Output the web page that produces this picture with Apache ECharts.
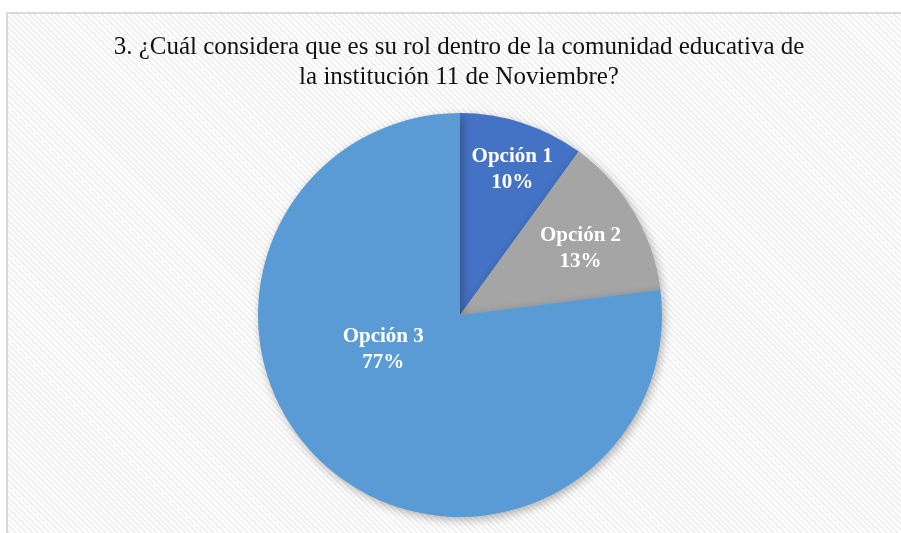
<!DOCTYPE html>
<html lang="es">
<head>
<meta charset="UTF-8">
<title>Rol en la comunidad educativa</title>
<style>
    * { margin: 0; }
    html, body { width: 100%; height: 100%; background: #fff; overflow: hidden; }
    #chart {
        position: absolute;
        left: 6px;
        top: 12px;
        width: 895px;
        height: 521px;
        border-left: 2px solid #d9d9d9;
        border-top: 2px solid #d9d9d9;
        background: repeating-linear-gradient(45deg, #ffffff 0px, #ffffff 2px, #f1f1f1 2px, #f1f1f1 4px);
    }
</style>
</head>
<body>
<div id="chart"></div>
<script src="https://cdn.jsdelivr.net/npm/echarts@6/dist/echarts.min.js"></script>
<script>
    var titleText = '3. ¿Cuál considera que es su rol dentro de la comunidad educativa de\nla institución 11 de Noviembre?';
    var categories = ['Opción 1', 'Opción 2', 'Opción 3'];
    var values = [10, 13, 77];
    var colors = ['#4472C4', '#A5A5A5', '#5B9BD5'];

    // label nudges, like excel's "best fit"
    var labelShift = [[20, -47], [31, -13], [-8, -43]];

    var chart = echarts.init(document.getElementById('chart'));

    var data = [];
    for (var i = 0; i < categories.length; i++) {
        data.push({ name: categories[i], value: values[i], itemStyle: { color: colors[i] } });
    }

    var option = {
        backgroundColor: 'transparent',
        animation: false,
        title: {
            text: titleText,
            left: 446,
            top: 13,
            textAlign: 'center',
            textStyle: {
                fontFamily: 'Liberation Serif',
                fontSize: 25,
                fontWeight: 'normal',
                color: '#111',
                lineHeight: 30
            }
        },
        series: [{
            type: 'pie',
            center: [452, 301],
            radius: 202,
            startAngle: 90,
            clockwise: true,
            data: data,
            itemStyle: {
                borderWidth: 0,
                shadowBlur: 10,
                shadowOffsetX: 2,
                shadowOffsetY: 3,
                shadowColor: 'rgba(0,0,0,0.3)'
            },
            label: {
                show: true,
                position: 'inside',
                formatter: '{b}\n{d}%',
                color: '#fff',
                fontFamily: 'Liberation Serif',
                fontWeight: 'bold',
                fontSize: 21,
                lineHeight: 26
            },
            labelLine: { show: false },
            labelLayout: function (params) {
                var s = labelShift[params.dataIndex];
                return { dx: s[0], dy: s[1] };
            },
            emphasis: { disabled: true }
        }]
    };
    chart.setOption(option);
</script>
</body>
</html>
